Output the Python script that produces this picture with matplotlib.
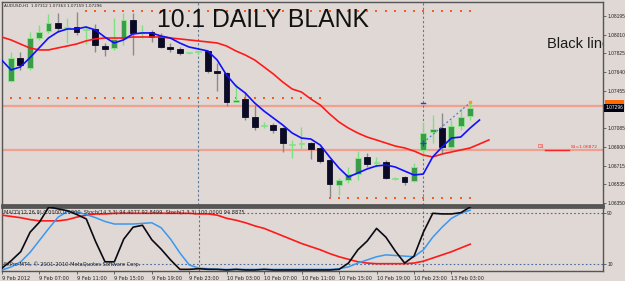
import numpy as np
import matplotlib.pyplot as plt
from matplotlib import transforms

# ---- price data (H1 bars, index 0..49) ----
opens = [1.07552, 1.07780, 1.07681, 1.07977, 1.08047, 1.08126, 1.08076, 1.08086, 1.08057, 1.08066,
         1.07898, 1.07879, 1.07968, 1.08155, 1.08027, 1.08037, 1.07997, 1.07888, 1.07869, 1.07829,
         1.07839, 1.07849, 1.07651, 1.07631, 1.07344, 1.07374, 1.07196, 1.07107, 1.07117, 1.07087,
         1.06919, 1.06929, 1.06939, 1.06890, 1.06771, 1.06524, 1.06573, 1.06632, 1.06801, 1.06741,
         1.06751, 1.06583, 1.06603, 1.06563, 1.06870, 1.07048, 1.07087, 1.06899, 1.07107, 1.07206]
highs = [1.07839, 1.07839, 1.08037, 1.08106, 1.08215, 1.08225, 1.08175, 1.08235, 1.08096, 1.08116,
         1.07928, 1.08175, 1.08225, 1.08225, 1.08106, 1.08057, 1.08027, 1.07928, 1.07888, 1.07839,
         1.07859, 1.07859, 1.07730, 1.07641, 1.07522, 1.07443, 1.07315, 1.07147, 1.07137, 1.07097,
         1.06969, 1.07097, 1.06949, 1.06899, 1.06781, 1.06593, 1.06702, 1.06860, 1.06840, 1.06801,
         1.06771, 1.06603, 1.06613, 1.06741, 1.07147, 1.07216, 1.07236, 1.07166, 1.07285, 1.07344]
lows = [1.07542, 1.07661, 1.07661, 1.07958, 1.08027, 1.08037, 1.07928, 1.08007, 1.07918, 1.07839,
        1.07799, 1.07859, 1.07908, 1.07809, 1.07977, 1.07938, 1.07879, 1.07839, 1.07809, 1.07819,
        1.07819, 1.07631, 1.07453, 1.07305, 1.07344, 1.07166, 1.07068, 1.07087, 1.07038, 1.06850,
        1.06791, 1.06870, 1.06781, 1.06741, 1.06405, 1.06425, 1.06543, 1.06573, 1.06702, 1.06702,
        1.06583, 1.06573, 1.06524, 1.06553, 1.06801, 1.06939, 1.06840, 1.06870, 1.07068, 1.07166]
closes = [1.07780, 1.07710, 1.07977, 1.08037, 1.08126, 1.08076, 1.08086, 1.08037, 1.08066, 1.07908,
          1.07869, 1.07968, 1.08155, 1.08027, 1.08037, 1.07987, 1.07888, 1.07869, 1.07829, 1.07839,
          1.07849, 1.07651, 1.07631, 1.07344, 1.07364, 1.07196, 1.07097, 1.07117, 1.07068, 1.06939,
          1.06929, 1.06939, 1.06880, 1.06761, 1.06533, 1.06573, 1.06632, 1.06791, 1.06731, 1.06751,
          1.06593, 1.06593, 1.06553, 1.06702, 1.07038, 1.07077, 1.06899, 1.07107, 1.07196, 1.07285]

# moving averages, from bar -1 (shifted forward: blue ends at 50, red at 51)
ma_fast = [1.07760, 1.07661, 1.07691, 1.07780, 1.07879, 1.07977, 1.08037, 1.08066, 1.08066, 1.08086,
           1.08057, 1.07987, 1.07928, 1.07958, 1.08017, 1.08027, 1.08027, 1.07997, 1.07977, 1.07928,
           1.07888, 1.07869, 1.07849, 1.07760, 1.07612, 1.07503, 1.07433, 1.07335, 1.07255, 1.07186,
           1.07117, 1.07038, 1.06988, 1.06978, 1.06919, 1.06801, 1.06692, 1.06603, 1.06642, 1.06682,
           1.06712, 1.06721, 1.06702, 1.06662, 1.06623, 1.06632, 1.06801, 1.06899, 1.06988, 1.06998,
           1.07087, 1.07166]
ma_slow = [1.07987, 1.07958, 1.07918, 1.07879, 1.07859, 1.07859, 1.07879, 1.07898, 1.07918, 1.07948,
           1.07968, 1.07977, 1.07977, 1.07977, 1.07987, 1.07987, 1.07987, 1.07987, 1.07977, 1.07968,
           1.07958, 1.07948, 1.07938, 1.07928, 1.07898, 1.07849, 1.07809, 1.07760, 1.07691, 1.07621,
           1.07542, 1.07473, 1.07443, 1.07374, 1.07315, 1.07226, 1.07147, 1.07087, 1.07038, 1.06998,
           1.06969, 1.06939, 1.06909, 1.06890, 1.06860, 1.06820, 1.06801, 1.06830, 1.06850, 1.06870,
           1.06890, 1.06929, 1.06969]

# oscillators, bars -1..49
stoch_fast = [3, 15, 29, 60, 76, 100, 97, 94, 88, 81, 45, 13, 13, 49, 68, 71, 48, 33, 16, 1,
              1, 2, 1, 1, 0, 1, 0, 0, 1, 0, 0, 0, 0, 0, 0, 0, 1, 11, 32, 46,
              66, 52, 30, 11, 22, 60, 90, 89, 89, 91, 100]
stoch_signal = [0, 5, 13, 28, 47, 66, 84, 93, 92, 88, 83, 77, 73, 73, 73, 74, 75, 67, 49, 27,
                8, 3, 2, 1, 1, 1, 1, 1, 1, 1, 1, 1, 1, 1, 1, 1, 2, 5, 11, 16,
                21, 24, 23, 22, 21, 32, 52, 68, 82, 90, 95]
stoch_long = [87, 85, 83, 80, 78, 78, 78, 80, 84, 87, 89, 89, 90, 90, 90, 90, 90, 90, 90, 90,
              90, 89, 89, 87, 82, 79, 75, 70, 66, 60, 54, 48, 42, 37, 32, 26, 21, 17, 13, 11,
              10, 10, 10, 10, 11, 14, 19, 24, 29, 35, 41]

# levels
top_dots = 1.08245
mid_dots = 1.07384
low_dots = 1.06395
bid_line = 1.07305
s1_level = 1.06872
day_breaks = [20, 44]
trend_x = [44, 49]
trend_y = [1.06942, 1.07338]

price_ticks = [1.08195, 1.08010, 1.07825, 1.07640, 1.07455, 1.07085, 1.06900, 1.06715, 1.06535, 1.06350]
time_pos = [-1, 3, 7, 11, 15, 19, 23, 27, 31, 35, 39, 43, 47]
time_labels = ["9 Feb 2012", "9 Feb 07:00", "9 Feb 11:00", "9 Feb 15:00", "9 Feb 19:00",
               "9 Feb 23:00", "10 Feb 03:00", "10 Feb 07:00", "10 Feb 11:00", "10 Feb 15:00",
               "10 Feb 19:00", "10 Feb 23:00", "13 Feb 03:00"]

bg = "#e0d8d4"
frame = "#555555"
dot_col = "#ff5a1e"
small = 3.6
axis_font = dict(family="Liberation Sans", size=3.5)

fig = plt.figure(figsize=(6.25, 2.81), dpi=100, facecolor=bg)
ax = fig.add_axes([2 / 625, 76 / 281, 601 / 625, 203 / 281], facecolor=bg)
sub = fig.add_axes([2 / 625, 10 / 281, 601 / 625, 64 / 281], facecolor=bg)

xlim = (-0.96, 63.18)
n = len(opens)
x = np.arange(n)
o = np.array(opens)
c = np.array(closes)
up = c >= o

# ---- main chart ----
ax.axhline(bid_line, color="#f0a090", lw=1.6, zorder=1)
ax.axhline(s1_level, color="#f0a090", lw=1.6, zorder=1)
for d in day_breaks:
    ax.axvline(d, color="#5a7a9a", lw=0.8, ls=(0, (2, 2)), zorder=1)

ax.scatter(np.arange(8, 50), [top_dots] * 42, marker="s", s=3, color=dot_col, lw=0, zorder=2)
ax.scatter(np.arange(0, 34), [mid_dots] * 34, marker="s", s=3, color=dot_col, lw=0, zorder=2)
ax.scatter(np.arange(34, 50), [low_dots] * 16, marker="s", s=3, color=dot_col, lw=0, zorder=2)

wick_cols = np.where(up, "#7fe07f", "#8a8a8a")
ax.vlines(x, lows, highs, colors=wick_cols, lw=1, zorder=3)
body_h = np.maximum(np.abs(c - o), 0.00007)
ax.bar(x, body_h, bottom=np.minimum(o, c), width=0.62,
       color=np.where(up, "#3c9a48", "#0b0b26"),
       edgecolor=np.where(up, "#8ee88e", "#0b0b26"), linewidth=0.6, zorder=4)

ax.plot(np.arange(-1, len(ma_slow) - 1), ma_slow, color="#ff1a1a", lw=1.2, zorder=5)
ax.plot(np.arange(-1, len(ma_fast) - 1), ma_fast, color="#1010ff", lw=1.2, zorder=6)

ax.plot(trend_x, trend_y, color="#4a7ad8", lw=0.9, ls=(0, (1.5, 2)), zorder=6)
ax.plot(trend_x[0], trend_y[0], marker="+", color="#2040e0", ms=4, mew=0.9, zorder=7)
ax.plot(trend_x[1], trend_y[1] + 0.00008, marker="s", color="#f0a020", ms=1.6, zorder=7)
ax.plot([43.8, 44.2], [trend_y[1], trend_y[1]], color="#2040e0", lw=1, zorder=7)

ax.text(56.2, s1_level + 0.00005, "D1", color="#ff2020", fontsize=3.4, va="bottom", ha="left")
ax.plot([57.0, 59.6], [s1_level, s1_level], color="#ff2020", lw=1, zorder=5)
ax.text(59.7, s1_level + 0.00005, "S1=1.06872", color="#ff2020", fontsize=3.2, va="bottom", ha="left")

# the chart window clips this label at its right edge, as in the terminal
ax.text(57.2, 1.07879, "Black line", fontsize=10.5, family="Liberation Sans",
        color="#1a1a1a", va="baseline", ha="left", clip_on=True)
ax.text(0.003, 0.992, "AUDUSD,H1  1.07312 1.07363 1.07159 1.07296", transform=ax.transAxes,
        fontsize=3.0, color="#222222", va="top", ha="left")

ax.set_xlim(*xlim)
ax.set_ylim(1.06326, 1.08333)
ax.set_xticks([])
ax.yaxis.tick_right()
ax.set_yticks(price_ticks)
ax.set_yticklabels([f"{p:.5f}" for p in price_ticks], fontdict=axis_font)
ax.tick_params(axis="y", length=2, width=0.6, colors=frame, pad=1, labelcolor="#222222")
for s in ax.spines.values():
    s.set_color(frame)
    s.set_linewidth(1)
ax.spines["bottom"].set_linewidth(2)

tr = transforms.blended_transform_factory(ax.transAxes, ax.transData)
ax.text(1.004, 1.07332, "1.07312", transform=tr, color="#ff6a00", va="center", ha="left",
        bbox=dict(facecolor="#ff6a00", edgecolor="none", pad=0.5), zorder=8, clip_on=False, **axis_font)
ax.text(1.004, 1.07286, "1.07296", transform=tr, color="white", va="center", ha="left",
        bbox=dict(facecolor="#000010", edgecolor="none", pad=0.8), zorder=9, clip_on=False, **axis_font)

fig.text(157 / 625, 1 - 27 / 281, "10.1 DAILY BLANK", fontsize=17.8, family="Liberation Sans",
         color="#111111", va="baseline", ha="left")

# ---- oscillator panel ----
xs = np.arange(-1, len(stoch_fast) - 1)
for lvl in (90, 10):
    sub.axhline(lvl, color="#4a6a9a", lw=0.8, ls=(0, (1.5, 2)), zorder=1)
for d in day_breaks:
    sub.axvline(d, color="#5a7a9a", lw=0.8, ls=(0, (2, 2)), zorder=1)
sub.plot(xs, stoch_long, color="#ff1a1a", lw=1.2, zorder=3)
sub.plot(xs, stoch_signal, color="#3a98f0", lw=1.1, zorder=4)
sub.plot(xs, stoch_fast, color="#0a0a14", lw=1.2, zorder=5)

sub.text(0.003, 0.95, "MACD(12,26,9) 0.0000 0.0000  Stoch(14,3,3) 94.4077 92.8499  Stoch(1,3,3) 100.0000 94.8875",
         transform=sub.transAxes, fontsize=3.6, color="#222222", va="top", ha="left", zorder=6)
sub.text(0.003, 0.06, "FxPro MT4, \u00a9 2001-2010 MetaQuotes Software Corp.",
         transform=sub.transAxes, fontsize=3.7, color="#222222", va="bottom", ha="left", zorder=6)

sub.set_xlim(*xlim)
sub.set_ylim(-1.6, 100)
sub.yaxis.tick_right()
sub.set_yticks([90, 10])
sub.set_yticklabels(["90", "10"], fontdict=axis_font)
sub.set_xticks(time_pos)
sub.set_xticklabels(time_labels, ha="left", fontsize=small)
sub.tick_params(axis="both", length=2, width=0.6, colors=frame, pad=1.5, labelcolor="#222222")
sub.tick_params(axis="y", pad=1)
for s in sub.spines.values():
    s.set_color(frame)
    s.set_linewidth(1)
sub.spines["top"].set_linewidth(2)

fig.savefig("out.png", dpi=100, facecolor=bg)
